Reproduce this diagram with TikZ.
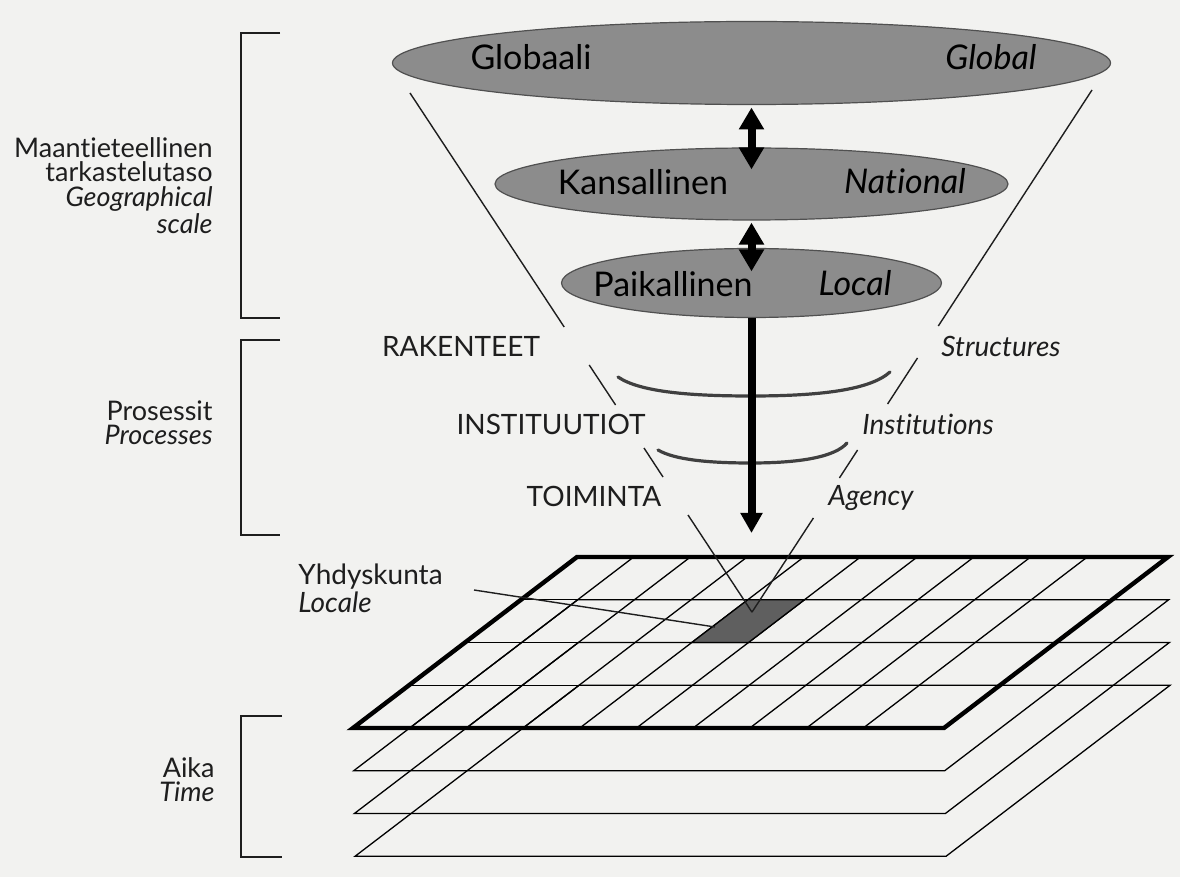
\documentclass[tikz,border=0pt]{standalone}
\usepackage{fontspec}
\setmainfont{Lato}[Ligatures={NoCommon}]
\usetikzlibrary{arrows.meta,shapes.geometric,calc}
\definecolor{bg}{RGB}{242,242,240}
\definecolor{ellgray}{RGB}{140,140,140}
\definecolor{ellline}{RGB}{80,80,80}
\definecolor{cellgray}{RGB}{95,95,95}
\definecolor{ink}{RGB}{30,30,30}
\begin{document}
\begin{tikzpicture}[x=0.5pt,y=-0.5pt,
  ell/.style={ellipse, draw=ellline, line width=0.6pt, fill=ellgray, inner sep=0pt},
  etxt/.style={font=\fontsize{17}{20}\selectfont, text=black, inner sep=0pt, anchor=base},
  etxti/.style={etxt, font=\fontsize{17}{20}\selectfont\itshape},
  lab/.style={font=\fontsize{14}{16}\selectfont, text=ink, inner sep=0pt, anchor=base},
  labi/.style={lab, font=\fontsize{14}{16}\selectfont\itshape},
  side/.style={font=\fontsize{13.5}{12.25}\selectfont, text=ink, inner sep=0pt, anchor=north east, align=right},
  thinl/.style={line width=0.65pt, draw=black},
  frame/.style={line width=2.2pt, draw=black, line join=miter},
  funnel/.style={line width=0.7pt, draw=ink},
  brk/.style={line width=0.8pt, draw=ink},
  bowl/.style={line width=1.6pt, draw=black!75, line cap=round},
  dbl/.style={draw=black, line width=4pt, {Triangle[length=11pt,width=12pt]}-{Triangle[length=11pt,width=12pt]}},
  down/.style={draw=black, line width=4pt, -{Triangle[length=10pt,width=10.5pt]}}
]
\fill[bg] (0,0) rectangle (1180,877);
\useasboundingbox (0,0) rectangle (1180,877);

% ---------- layered planes ----------
\begin{scope}[shift={(577,557)}, x={(28.35pt,0pt)}, y={(-28pt,-21.375pt)}]
  \def\W{10.423}
  \foreach \k in {1,2,3}
    \draw[thinl] (\k,\k) -- ({\W+\k},\k) -- ({\W+\k},{4+\k}) -- (\k,{4+\k}) -- cycle;
  \foreach \i in {1,...,9}
    \draw[thinl] (\i,0) -- (\i,4);
  \foreach \j in {1,2,3}
    \draw[thinl] (0,\j) -- ({\W+\j},\j);
  \draw[frame] (0,0) -- (\W,0) -- (\W,4) -- (0,4) -- cycle;
  \filldraw[fill=cellgray, draw=black, line width=0.65pt] (4,1) -- (5,1) -- (5,2) -- (4,2) -- cycle;
  \coordinate (focus) at (4.36,1.29);
\end{scope}

% ---------- ellipses ----------
\node[ell, minimum width=359pt, minimum height=41.5pt] (glob) at (751.5,63) {};
\node[ell, minimum width=256.5pt, minimum height=36pt] (nat) at (751.5,184) {};
\node[ell, minimum width=190pt, minimum height=34.5pt] (loc) at (751.5,283) {};

\node[etxt]  (tglob)  at (531,70)  {Globaali};
\node[etxti] (tglobe) at (991,70)  {Global};
\node[etxt]  (tnat)   at (643,195) {Kansallinen};
\node[etxti] (tnate)  at (905,194) {National};
\node[etxt]  (tloc)   at (673,297) {Paikallinen};
\node[etxti] (tloce)  at (855,296) {Local};

% ---------- arrows between scales ----------
\draw[dbl, shorten <=1.2pt, shorten >=-11pt] (glob.south) -- (nat.north);
\draw[dbl, shorten <=1pt, shorten >=-11.75pt] (nat.south) -- (loc.north);
\coordinate (tip) at (751.5,533);

% ---------- process bowls ----------
\draw[bowl] (618,377) .. controls (640,392) and (690,396) .. (751,396)
            .. controls (820,396) and (870,390) .. (890,372);
\draw[bowl] (658,450) .. controls (675,460) and (710,463) .. (751,463)
            .. controls (800,463) and (835,457) .. (847,443);
\draw[down] (loc.south) -- (tip);

% ---------- process labels ----------
\node[lab]  (rak)  at (461,357) {RAKENTEET};
\node[lab]  (ins)  at (551,435) {INSTITUUTIOT};
\node[lab]  (toi)  at (594,507) {TOIMINTA};
\node[labi] (str)  at (1001,357) {Structures};
\node[labi] (inst) at (928,435) {Institutions};
\node[labi] (age)  at (871,506) {Agency};

% ---------- funnel lines ----------
\coordinate (la) at (410,93);    \coordinate (lb) at (564.2,327);
\coordinate (lc) at (589.2,365); \coordinate (ld) at (615.6,405);
\coordinate (le) at (644,448);   \coordinate (lf) at (663,477);
\coordinate (lg) at (688,515);
\coordinate (ra) at (1092,90);   \coordinate (rb) at (938.3,326);
\coordinate (rc) at (917.5,358); \coordinate (rd) at (887.6,404);
\coordinate (re) at (857.6,450); \coordinate (rf) at (839.4,478);
\coordinate (rg) at (813.4,518);
\draw[funnel] (la) -- (lb);  \draw[funnel] (lc) -- (ld);
\draw[funnel] (le) -- (lf);  \draw[funnel] (lg) -- (focus);
\draw[funnel] (ra) -- (rb);  \draw[funnel] (rc) -- (rd);
\draw[funnel] (re) -- (rf);  \draw[funnel] (rg) -- (focus);

% ---------- locale label ----------
\node[lab, anchor=base west] (yhd) at (298,585) {Yhdyskunta};
\node[labi, anchor=base west] (lcl) at (298,612) {Locale};
\coordinate (lead) at (474,590);
\coordinate (cellpt) at (715,627);
\draw[funnel] (lead) -- (cellpt);

% ---------- left brackets ----------
\draw[brk] (280,33) -- (241,33) -- (241,318) -- (280,318);
\draw[brk] (280,340) -- (241,340) -- (241,535) -- (280,535);
\draw[brk] (282,716) -- (241,716) -- (241,857) -- (282,857);

\node[side] (geo)  at (213,137) {Maantieteellinen\\tarkastelutaso\\\itshape Geographical\\\itshape scale};
\node[side] (proc) at (213,400) {Prosessit\\\itshape Processes};
\node[side] (time) at (215,757) {Aika\\\itshape Time};
\end{tikzpicture}
\end{document}
